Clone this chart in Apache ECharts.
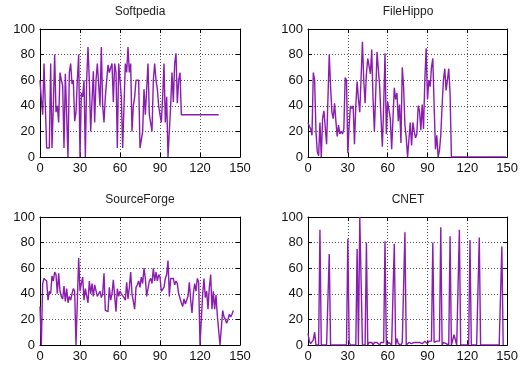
<!DOCTYPE html>
<html>
<head>
<meta charset="utf-8">
<script src="https://cdn.jsdelivr.net/npm/echarts@6/dist/echarts.min.js"></script>
<style>
html, body { margin: 0; padding: 0; background: #fff; }
#main { width: 521px; height: 369px; }
</style>
</head>
<body>
<div id="main"></div>
<script>
// values per download site, one sample per x step
const softpedia = [60, 45, 33, 73, 73, 7, 7, 7, 73, 7, 40, 80, 35, 40, 27, 66, 60, 56, 7, 65,
  66, 0, 66, 73, 57, 60, 28, 35, 60, 80, 0, 50, 47, 60, 0, 60, 86, 60, 20, 20,
  67, 27, 60, 73, 73, 40, 86, 40, 27, 47, 47, 72, 66, 66, 73, 43, 73, 66, 7, 73,
  73, 47, 7, 7, 73, 66, 86, 66, 73, 20, 40, 47, 60, 60, 60, 7, 7, 20, 53, 33,
  53, 73, 33, 33, 20, 60, 73, 60, 53, 40, 33, 27, 47, 73, 27, 47, 0, 0, 40, 66,
  43, 73, 81, 42, 60, 66, 33, 33, 33, 33, 33, 33, 33, 33, 33, 33, 33, 33, 33, 33,
  33, 33, 33, 33, 33, 33, 33, 33, 33, 33, 33, 33, 33, 33, 33];

const fileHippo = [27, 24, 22, 17, 66, 60, 20, 4, 1, 27, 0, 30, 36, 35, 10, 45, 80, 55, 35, 30,
  42, 28, 16, 25, 18, 20, 18, 22, 62, 60, 3, 25, 40, 38, 40, 10, 40, 59, 45, 35,
  36, 90, 60, 42, 65, 77, 77, 65, 84, 45, 20, 50, 82, 83, 55, 30, 8, 40, 81, 18,
  43, 42, 30, 6, 30, 54, 45, 50, 28, 41, 11, 70, 55, 25, 15, 0, 0, 27, 9, 27,
  20, 15, 18, 40, 36, 21, 41, 22, 60, 85, 45, 60, 55, 70, 77, 40, 6, 17, 0, 5,
  17, 40, 60, 69, 52, 60, 69, 50, 0, 0, 0, 0, 0, 0, 0, 0, 0, 0, 0, 0,
  0, 0, 0, 0, 0, 0, 0, 0, 0, 0, 0, 0, 0, 0, 0, 0, 0, 0, 0, 0,
  0, 0, 0, 0, 0, 0, 0, 0, 0, 0];

const sourceForge = [30, 0, 48, 52, 53, 50, 35, 42, 40, 54, 50, 57, 55, 40, 56, 42, 38, 36, 46, 34,
  44, 33, 38, 35, 40, 44, 42, 0, 0, 68, 42, 48, 53, 35, 44, 45, 33, 50, 40, 48,
  38, 47, 48, 38, 40, 42, 37, 40, 56, 27, 28, 26, 45, 35, 40, 51, 38, 26, 44, 38,
  42, 40, 40, 37, 35, 49, 36, 45, 57, 40, 40, 28, 45, 47, 50, 45, 53, 48, 60, 52,
  38, 37, 50, 52, 48, 60, 50, 57, 50, 55, 53, 42, 41, 45, 52, 55, 66, 38, 52, 53,
  52, 47, 50, 48, 40, 41, 33, 30, 36, 32, 35, 38, 49, 35, 25, 40, 48, 42, 52, 49,
  0, 0, 40, 52, 37, 42, 28, 45, 55, 28, 42, 28, 39, 23, 23, 0, 0, 27, 22, 20,
  17, 20, 24, 22, 24, 27];

const cnet = [9, 3, 1, 0, 4, 10, 0, 0, 0, 90, 0, 0, 0, 0, 0, 0, 71, 0, 0, 0,
  0, 0, 0, 0, 0, 0, 0, 0, 0, 0, 83, 2, 0, 0, 0, 0, 0, 75, 0, 100, 100, 0, 0, 0,
  80, 0, 2, 1, 2, 0, 2, 1, 2, 2, 0, 2, 1, 2, 81, 0, 1, 2, 1, 0, 1, 79, 0, 5,
  1, 2, 0, 2, 1, 88, 0, 1, 2, 3, 1, 0, 2, 1, 2, 1, 2, 3, 1, 2, 3, 2, 1, 3,
  2, 3, 80, 2, 2, 3, 2, 3, 92, 0, 2, 3, 1, 0, 0, 85, 0, 0, 8, 7, 0, 0, 90, 0,
  0, 0, 0, 0, 0, 0, 82, 0, 0, 0, 0, 0, 0, 84, 0, 0, 0, 0, 0, 0, 0, 0, 0, 0,
  0, 0, 0, 0, 0, 0, 77, 0];

const panelTitles = ['Softpedia', 'FileHippo', 'SourceForge', 'CNET'];
const panelValues = [softpedia, fileHippo, sourceForge, cnet];

const panels = [
  { left: 40, top: 29 },
  { left: 308, top: 29 },
  { left: 40, top: 217 },
  { left: 308, top: 217 }
];
const plotW = 200;
const plotH = 128;
const font = 'Liberation Sans, Arial, sans-serif';

let chart = echarts.init(document.getElementById('main'), null, { renderer: 'canvas' });

let grids = [];
let xAxes = [];
let yAxes = [];
let series = [];
let titles = [];

panels.forEach((p, i) => {
  grids.push({ left: p.left, top: p.top, width: plotW, height: plotH });

  titles.push({
    text: panelTitles[i],
    left: p.left + plotW / 2,
    top: p.top - 23,
    textAlign: 'center',
    padding: 0,
    textStyle: { fontSize: 12, fontWeight: 'normal', color: '#222', fontFamily: font }
  });

  const tick = { show: true, inside: true, length: 4, lineStyle: { color: '#000' } };
  const line = { show: true, onZero: false, lineStyle: { color: '#000', width: 1 } };
  const dotted = { show: true, lineStyle: { color: '#555', type: [1, 2], width: 1 } };

  xAxes.push({
    gridIndex: i, type: 'value', position: 'bottom', min: 0, max: 150, interval: 30,
    axisLine: line, axisTick: tick, splitLine: dotted,
    axisLabel: { fontSize: 13, color: '#111', margin: 5, fontFamily: font }
  });
  xAxes.push({
    gridIndex: i, type: 'value', position: 'top', min: 0, max: 150, interval: 30,
    axisLine: line, axisTick: tick, splitLine: { show: false }, axisLabel: { show: false }
  });
  yAxes.push({
    gridIndex: i, type: 'value', position: 'left', min: 0, max: 100, interval: 20,
    axisLine: line, axisTick: tick, splitLine: dotted,
    axisLabel: { fontSize: 13, color: '#111', margin: 5, fontFamily: font }
  });
  yAxes.push({
    gridIndex: i, type: 'value', position: 'right', min: 0, max: 100, interval: 20,
    axisLine: line, axisTick: tick, splitLine: { show: false }, axisLabel: { show: false }
  });

  series.push({
    type: 'line',
    xAxisIndex: i * 2,
    yAxisIndex: i * 2,
    data: panelValues[i].map((v, k) => [k, v]),
    showSymbol: false,
    symbol: 'none',
    lineStyle: { color: '#8A1CB0', width: 1.4 }
  });
});

chart.setOption({
  animation: false,
  backgroundColor: '#fff',
  title: titles,
  grid: grids,
  xAxis: xAxes,
  yAxis: yAxes,
  series: series
});
</script>
</body>
</html>
